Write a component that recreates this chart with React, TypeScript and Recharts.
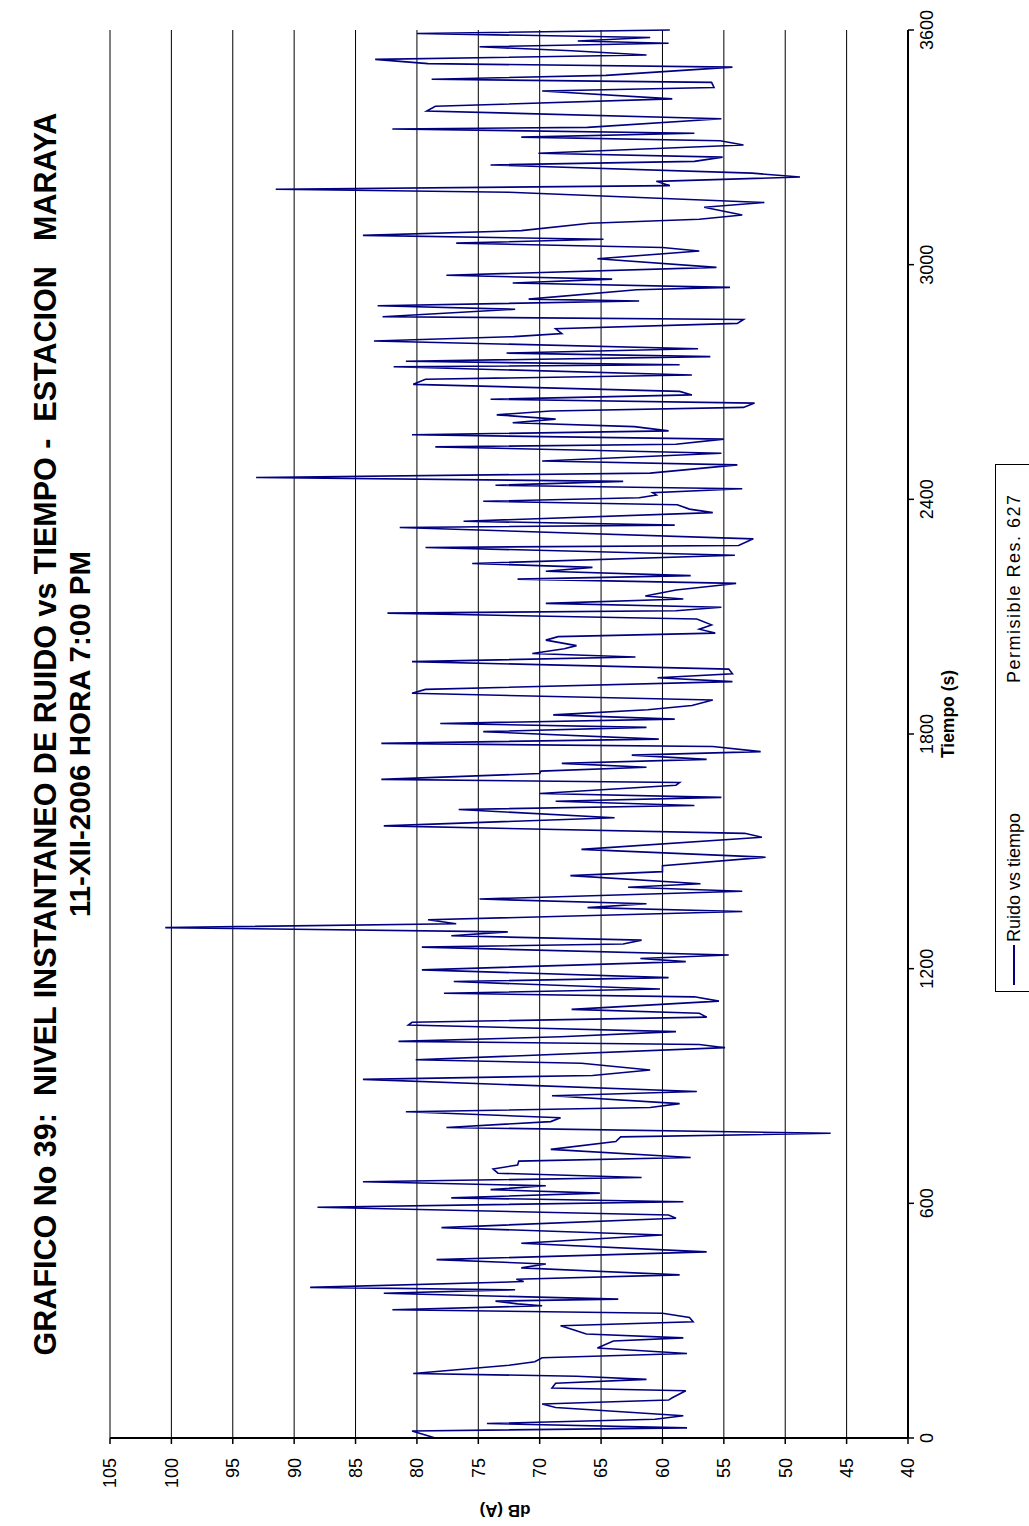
import { CartesianGrid, Line, LineChart, XAxis, YAxis } from "recharts";

// Time (s) of each reading.
const times = [
  0, 18, 26, 37, 48, 57, 78, 87, 97, 103, 121, 128, 140, 150, 158, 165, 186, 195, 205, 216,
  230, 248, 256, 266, 276, 287, 297, 308, 319, 328, 338, 343, 350, 355, 370, 379, 385, 400, 406, 417,
  435, 445, 456, 476, 498, 519, 538, 562, 570, 590, 604, 614, 626, 635, 645, 655, 666, 677, 688, 698,
  708, 717, 738, 758, 770, 779, 794, 809, 819, 834, 845, 855, 875, 886, 917, 927, 941, 958, 967, 998,
  1006, 1014, 1026, 1039, 1056, 1063, 1076, 1086, 1096, 1117, 1128, 1137, 1148, 1167, 1177, 1197, 1218, 1226, 1235, 1255,
  1263, 1273, 1284, 1294, 1305, 1315, 1325, 1346, 1356, 1366, 1378, 1398, 1408, 1417, 1438, 1448, 1463, 1485, 1505, 1536,
  1546, 1565, 1586, 1607, 1617, 1628, 1638, 1648, 1669, 1676, 1684, 1699, 1705, 1715, 1725, 1735, 1746, 1755, 1768, 1776,
  1787, 1806, 1817, 1827, 1838, 1849, 1862, 1873, 1887, 1904, 1914, 1934, 1944, 1954, 1966, 1985, 1997, 2006, 2018, 2026,
  2040, 2049, 2058, 2068, 2079, 2094, 2109, 2115, 2124, 2134, 2145, 2153, 2168, 2185, 2196, 2205, 2216, 2226, 2236, 2257,
  2277, 2282, 2299, 2328, 2334, 2344, 2366, 2375, 2386, 2395, 2404, 2411, 2417, 2427, 2436, 2446, 2456, 2467, 2488, 2498,
  2518, 2534, 2541, 2554, 2565, 2575, 2586, 2596, 2605, 2616, 2626, 2635, 2646, 2656, 2667, 2676, 2694, 2707, 2718, 2739,
  2744, 2753, 2765, 2774, 2785, 2805, 2816, 2824, 2836, 2850, 2860, 2867, 2886, 2895, 2907, 2912, 2936, 2942, 2953, 2963,
  2973, 2993, 3015, 3035, 3044, 3055, 3065, 3075, 3087, 3106, 3116, 3127, 3147, 3159, 3185, 3193, 3202, 3213, 3224, 3234,
  3255, 3264, 3275, 3285, 3306, 3317, 3326, 3336, 3347, 3351, 3373, 3393, 3405, 3424, 3444, 3453, 3466, 3474, 3484, 3505,
  3514, 3525, 3536, 3547, 3557, 3566, 3572, 3581, 3591, 3600,
];

// Noise level dB(A) at each of those times.
const levels = [
  78.5, 80.4, 58.0, 74.3, 60.6, 58.3, 68.7, 69.8, 59.5, 59.2, 58.1, 69.0, 68.7, 61.3, 67.0, 80.3, 72.5, 70.4, 69.8, 58.0,
  65.3, 64.0, 58.3, 66.2, 67.2, 68.3, 57.5, 57.8, 60.0, 82.0, 69.8, 71.8, 73.6, 63.6, 82.7, 72.0, 88.7, 71.3, 71.9, 58.6,
  71.5, 69.5, 78.4, 56.4, 71.5, 60.0, 78.0, 58.9, 59.5, 88.1, 58.3, 77.2, 65.1, 74.0, 69.5, 84.4, 61.7, 73.4, 73.8, 71.8,
  71.7, 57.7, 69.1, 63.8, 63.4, 46.3, 77.6, 69.1, 68.3, 80.9, 61.0, 58.6, 69.0, 57.2, 84.4, 65.7, 61.0, 66.6, 80.1, 54.9,
  57.0, 81.5, 68.3, 58.9, 80.7, 80.4, 56.4, 57.0, 67.4, 55.4, 57.4, 77.8, 60.2, 77.0, 59.5, 79.6, 58.1, 61.8, 54.6, 79.6,
  63.2, 61.7, 77.2, 72.6, 100.5, 76.8, 79.1, 53.5, 66.1, 61.3, 74.9, 53.5, 62.8, 56.9, 67.5, 60.0, 60.0, 51.6, 66.6, 51.9,
  53.3, 82.7, 63.9, 76.6, 57.4, 68.7, 55.2, 70.0, 58.9, 58.6, 82.9, 70.0, 69.9, 61.3, 68.2, 56.4, 62.5, 52.0, 55.9, 82.9,
  60.3, 74.6, 61.3, 78.1, 59.0, 68.9, 61.2, 57.6, 55.9, 80.4, 79.3, 54.3, 60.4, 54.3, 54.6, 80.4, 62.2, 70.6, 68.0, 67.0,
  69.5, 68.5, 55.7, 57.0, 56.0, 57.2, 82.4, 58.9, 55.2, 69.5, 58.3, 61.4, 58.9, 54.0, 71.8, 57.7, 69.5, 65.7, 75.5, 54.1,
  79.3, 53.8, 52.6, 81.4, 59.0, 76.2, 55.9, 57.8, 58.8, 74.6, 61.9, 60.5, 60.8, 53.5, 73.6, 63.2, 93.1, 61.0, 53.9, 69.8,
  55.2, 78.5, 58.9, 55.0, 80.4, 59.5, 62.3, 72.2, 68.7, 73.5, 69.1, 53.4, 52.5, 74.0, 57.6, 58.6, 80.3, 79.3, 57.6, 81.9,
  58.6, 80.9, 56.1, 72.7, 57.1, 83.5, 72.1, 68.2, 68.7, 53.9, 53.4, 82.8, 72.0, 83.2, 61.9, 70.9, 62.1, 54.5, 72.2, 64.1,
  77.6, 55.6, 65.3, 57.0, 60.0, 76.8, 64.8, 84.4, 71.5, 65.9, 57.0, 53.5, 56.6, 51.7, 72.5, 91.5, 59.4, 60.5, 48.8, 52.7,
  74.0, 57.4, 55.1, 70.1, 53.4, 55.3, 71.5, 57.4, 82.0, 66.1, 55.2, 79.2, 78.5, 59.2, 69.8, 55.8, 56.0, 78.8, 64.6, 54.3,
  79.1, 83.4, 61.3, 67.4, 74.9, 59.5, 66.9, 61.0, 80.0, 59.4,
];

const timeTicks = [0, 600, 1200, 1800, 2400, 3000, 3600];
const dbTicks = [40, 45, 50, 55, 60, 65, 70, 75, 80, 85, 90, 95, 100, 105];

const data = times.map((t, i) => ({ t, db: levels[i] }));

const FONT = '"Liberation Sans", Arial, Helvetica, sans-serif';
const W = 1526;
const H = 1029;

export default function App() {
  // The chart is laid out landscape, then turned a quarter turn to fit the portrait page.
  return (
    <div
      style={{
        position: "absolute",
        left: 0,
        top: W,
        width: W,
        height: H,
        transformOrigin: "0 0",
        transform: "rotate(-90deg)",
        background: "#fff",
        fontFamily: FONT,
        color: "#000",
      }}
    >
      <div
        style={{
          position: "absolute",
          left: 88,
          width: 1408,
          top: 27,
          textAlign: "center",
          fontWeight: "bold",
          fontSize: 30.5,
          lineHeight: "36px",
          whiteSpace: "pre",
        }}
      >
        {"GRAFICO No 39:  NIVEL INSTANTANEO DE RUIDO vs TIEMPO -  ESTACION   MARAYA"}
      </div>
      <div
        style={{
          position: "absolute",
          left: 88,
          width: 1408,
          top: 63,
          textAlign: "center",
          fontWeight: "bold",
          fontSize: 29.5,
          lineHeight: "34px",
          whiteSpace: "pre",
        }}
      >
        11-XII-2006 HORA 7:00 PM
      </div>

      <div style={{ position: "absolute", left: 0, top: 0 }}>
        <LineChart
          width={W}
          height={H}
          data={data}
          margin={{ top: 110, right: 30, left: 28, bottom: 91 }}
        >
          <CartesianGrid vertical={false} stroke="#000" strokeWidth={1} />
          <XAxis
            dataKey="t"
            type="number"
            domain={[0, 3600]}
            ticks={timeTicks}
            interval={0}
            height={30}
            tickSize={6}
            tickMargin={6}
            axisLine={{ stroke: "#000", strokeWidth: 2 }}
            tickLine={{ stroke: "#000", strokeWidth: 1.5 }}
            tick={{ fill: "#000", fontSize: 18, fontFamily: FONT }}
          />
          <YAxis
            type="number"
            domain={[40, 105]}
            ticks={dbTicks}
            interval={0}
            width={60}
            tickSize={6}
            tickMargin={14}
            axisLine={{ stroke: "#000", strokeWidth: 2 }}
            tickLine={{ stroke: "#000", strokeWidth: 1.5 }}
            tick={{ fill: "#000", fontSize: 18, fontFamily: FONT }}
          />
          <Line
            dataKey="db"
            type="linear"
            stroke="#000080"
            strokeWidth={1.6}
            dot={false}
            isAnimationActive={false}
          />
        </LineChart>
      </div>

      {/* axis titles */}
      <div
        style={{
          position: "absolute",
          left: 16 - 60,
          top: 505 - 11,
          width: 120,
          height: 22,
          lineHeight: "22px",
          textAlign: "center",
          fontWeight: "bold",
          fontSize: 17,
          transform: "rotate(-90deg)",
        }}
      >
        dB (A)
      </div>
      <div
        style={{
          position: "absolute",
          left: 108,
          width: 1408,
          top: 937,
          textAlign: "center",
          fontWeight: "bold",
          fontSize: 17.5,
          lineHeight: "22px",
        }}
      >
        Tiempo (s)
      </div>

      {/* legend, running off the page edge like the original */}
      <div
        style={{
          position: "absolute",
          left: 534,
          top: 995,
          width: 528,
          height: 60,
          border: "1px solid #000",
          boxSizing: "border-box",
          fontSize: 18,
        }}
      >
        <div
          style={{ position: "absolute", left: 6, top: 17, width: 40, height: 2, background: "#000080" }}
        />
        <div style={{ position: "absolute", left: 49, top: 6, lineHeight: "24px", whiteSpace: "pre" }}>
          Ruido vs tiempo
        </div>
        <div
          style={{
            position: "absolute",
            left: 308,
            top: 6,
            letterSpacing: 1.5,
            lineHeight: "24px",
            whiteSpace: "pre",
          }}
        >
          Permisible Res. 627
        </div>
      </div>
    </div>
  );
}
